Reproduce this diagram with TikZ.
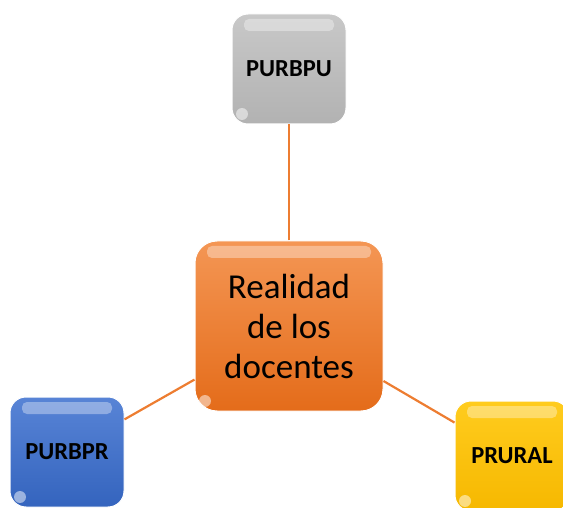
\documentclass[tikz,border=0pt]{standalone}
\usepackage{fontspec}
\setmainfont{Carlito}
\usetikzlibrary{positioning}
\definecolor{linkorange}{RGB}{237,125,49}
\definecolor{orangetop}{RGB}{244,150,84}
\definecolor{orangebot}{RGB}{228,108,26}
\definecolor{graytop}{RGB}{200,200,200}
\definecolor{graybot}{RGB}{178,178,178}
\definecolor{bluetop}{RGB}{88,132,214}
\definecolor{bluebot}{RGB}{52,100,190}
\definecolor{yellowtop}{RGB}{255,204,30}
\definecolor{yellowbot}{RGB}{246,184,0}
\tikzset{
  gloss/.style={path picture={
    \fill[white,opacity=0.35,rounded corners=5pt]
      ([xshift=12pt,yshift=-5pt]path picture bounding box.north west) rectangle
      ([xshift=-12pt,yshift=-17pt]path picture bounding box.north east);
    \fill[white,opacity=0.5]
      ([xshift=10pt,yshift=10pt]path picture bounding box.south west) circle (6pt);}},
  topicbox/.style={rectangle, rounded corners=16pt, gloss, draw=white, line width=1pt,
    minimum width=114pt, minimum height=110pt, inner sep=0pt,
    font=\fontsize{24.5}{28}\selectfont\bfseries},
  link/.style={draw=linkorange, line width=2.2pt}
}
\begin{document}
\begin{tikzpicture}[x=1pt,y=-1pt]
  \useasboundingbox (0,0) rectangle (563,508);
  \clip (0,0) rectangle (563,508);
  %draw central box
  \node[topicbox, rounded corners=22pt, minimum width=188pt, minimum height=170pt,
    top color=orangetop, bottom color=orangebot, align=center,
    font=\fontsize{35}{40}\selectfont] (realidad) at (289,326)
    {Realidad\\de los\\docentes};
  %draw outer boxes
  \node[topicbox, top color=graytop, bottom color=graybot] (purbpu) at (289,69) {PURBPU};
  \node[topicbox, top color=bluetop, bottom color=bluebot] (purbpr) at (67,452) {PURBPR};
  \node[topicbox, top color=yellowtop, bottom color=yellowbot] (prural) at (512,456) {PRURAL};
  %draw links
  \draw[link] (realidad) -- (purbpu);
  \draw[link] (realidad) -- (purbpr);
  \draw[link] (realidad) -- (prural);
\end{tikzpicture}
\end{document}
